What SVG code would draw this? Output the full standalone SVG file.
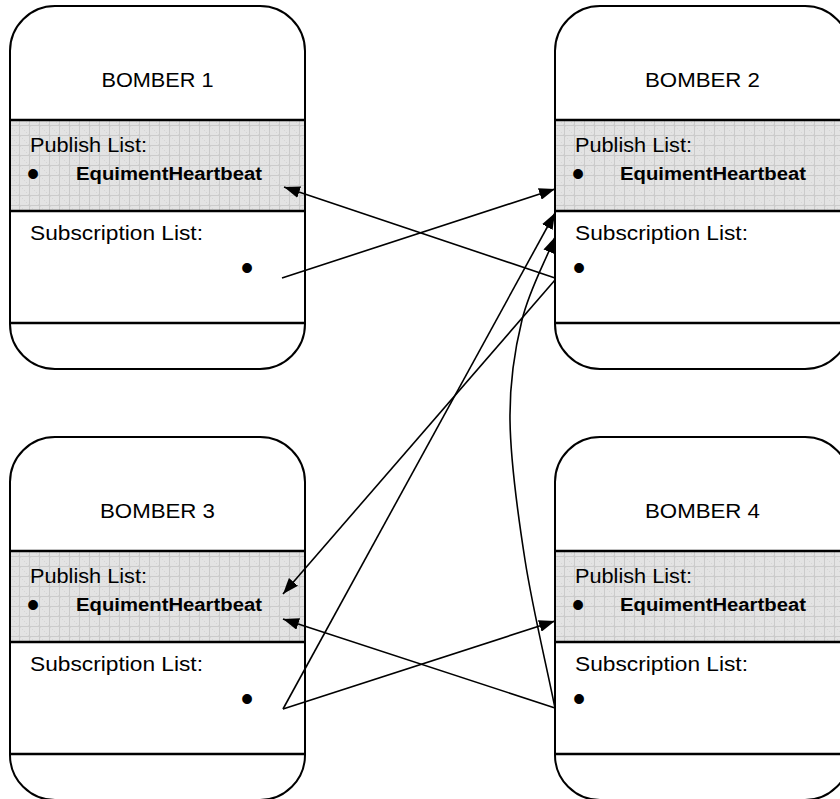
<svg xmlns="http://www.w3.org/2000/svg" width="840" height="799" viewBox="0 0 840 799">
  <defs>
    <pattern id="grid" x="0" y="0" width="10" height="10" patternUnits="userSpaceOnUse">
      <rect width="10" height="10" fill="#e3e3e3"/>
      <rect x="0" y="0" width="1" height="1" fill="#d6d6d6"/>
      <rect x="2" y="2" width="1" height="1" fill="#d6d6d6"/>
      <rect x="4" y="4" width="1" height="1" fill="#d6d6d6"/>
      <rect x="6" y="6" width="1" height="1" fill="#d6d6d6"/>
      <rect x="8" y="8" width="1" height="1" fill="#d6d6d6"/>
      <path d="M9.5,0 V10 M0,9.5 H10" stroke="#cbcbcb" stroke-width="1" fill="none"/>
    </pattern>
    <marker id="arrow" viewBox="0 0 16 12" refX="16" refY="6" markerWidth="16" markerHeight="12" markerUnits="userSpaceOnUse" orient="auto">
      <path d="M0,0 L16,6 L0,12 z" fill="#000"/>
    </marker>
    <style>
      .box { fill: #fff; stroke: #000; stroke-width: 2; }
      .shade { fill: url(#grid); stroke: none; }
      .sep { stroke: #000; stroke-width: 2.5; }
      .title { font-family: "Liberation Sans", Arial, sans-serif; font-size: 21px; fill: #000; text-anchor: middle; }
      .lbl { font-family: "Liberation Sans", Arial, sans-serif; font-size: 21px; fill: #000; }
      .item { font-family: "Liberation Sans", Arial, sans-serif; font-size: 18px; font-weight: bold; fill: #000; }
      .bul { font-family: "Liberation Sans", Arial, sans-serif; font-size: 36px; fill: #000; }
      .conn { fill: none; stroke: #000; stroke-width: 1.6; }
    </style>
  </defs>
  <rect width="840" height="799" fill="#fff"/>

  <g id="bomber1" transform="translate(10,6)">
    <rect class="box" x="0" y="0" width="295" height="363" rx="45" ry="45"/>
    <rect class="shade" x="1" y="114" width="293" height="91"/>
    <line class="sep" x1="0" y1="114" x2="295" y2="114"/>
    <line class="sep" x1="0" y1="205" x2="295" y2="205"/>
    <line class="sep" x1="0" y1="317" x2="295" y2="317"/>
    <text class="title" x="147.5" y="81" textLength="112" lengthAdjust="spacingAndGlyphs">BOMBER 1</text>
    <text class="lbl" x="20" y="146" textLength="117" lengthAdjust="spacingAndGlyphs">Publish List:</text>
    <text class="bul" x="16.7" y="179.6">•</text>
    <text class="item" x="66" y="174" textLength="186" lengthAdjust="spacingAndGlyphs">EquimentHeartbeat</text>
    <text class="lbl" x="20" y="234" textLength="173" lengthAdjust="spacingAndGlyphs">Subscription List:</text>
    <text class="bul" x="230.7" y="273.6">•</text>
  </g>

  <g id="bomber2" transform="translate(555,6)">
    <rect class="box" x="0" y="0" width="295" height="363" rx="45" ry="45"/>
    <rect class="shade" x="1" y="114" width="293" height="91"/>
    <line class="sep" x1="0" y1="114" x2="295" y2="114"/>
    <line class="sep" x1="0" y1="205" x2="295" y2="205"/>
    <line class="sep" x1="0" y1="317" x2="295" y2="317"/>
    <text class="title" x="147.5" y="81" textLength="115" lengthAdjust="spacingAndGlyphs">BOMBER 2</text>
    <text class="lbl" x="20" y="146" textLength="117" lengthAdjust="spacingAndGlyphs">Publish List:</text>
    <text class="bul" x="16.7" y="179.6">•</text>
    <text class="item" x="65" y="174" textLength="186" lengthAdjust="spacingAndGlyphs">EquimentHeartbeat</text>
    <text class="lbl" x="20" y="234" textLength="173" lengthAdjust="spacingAndGlyphs">Subscription List:</text>
    <text class="bul" x="17.7" y="273.6">•</text>
  </g>

  <g id="bomber3" transform="translate(10,437)">
    <rect class="box" x="0" y="0" width="295" height="363" rx="45" ry="45"/>
    <rect class="shade" x="1" y="114" width="293" height="91"/>
    <line class="sep" x1="0" y1="114" x2="295" y2="114"/>
    <line class="sep" x1="0" y1="205" x2="295" y2="205"/>
    <line class="sep" x1="0" y1="317" x2="295" y2="317"/>
    <text class="title" x="147.5" y="81" textLength="115" lengthAdjust="spacingAndGlyphs">BOMBER 3</text>
    <text class="lbl" x="20" y="146" textLength="117" lengthAdjust="spacingAndGlyphs">Publish List:</text>
    <text class="bul" x="16.7" y="179.6">•</text>
    <text class="item" x="66" y="174" textLength="186" lengthAdjust="spacingAndGlyphs">EquimentHeartbeat</text>
    <text class="lbl" x="20" y="234" textLength="173" lengthAdjust="spacingAndGlyphs">Subscription List:</text>
    <text class="bul" x="230.7" y="273.6">•</text>
  </g>

  <g id="bomber4" transform="translate(555,437)">
    <rect class="box" x="0" y="0" width="295" height="363" rx="45" ry="45"/>
    <rect class="shade" x="1" y="114" width="293" height="91"/>
    <line class="sep" x1="0" y1="114" x2="295" y2="114"/>
    <line class="sep" x1="0" y1="205" x2="295" y2="205"/>
    <line class="sep" x1="0" y1="317" x2="295" y2="317"/>
    <text class="title" x="147.5" y="81" textLength="115" lengthAdjust="spacingAndGlyphs">BOMBER 4</text>
    <text class="lbl" x="20" y="146" textLength="117" lengthAdjust="spacingAndGlyphs">Publish List:</text>
    <text class="bul" x="16.7" y="179.6">•</text>
    <text class="item" x="65" y="174" textLength="186" lengthAdjust="spacingAndGlyphs">EquimentHeartbeat</text>
    <text class="lbl" x="20" y="234" textLength="173" lengthAdjust="spacingAndGlyphs">Subscription List:</text>
    <text class="bul" x="17.7" y="273.6">•</text>
  </g>

  <g id="connectors">
    <line class="conn" x1="555" y1="278" x2="284" y2="187" marker-end="url(#arrow)"/>
    <line class="conn" x1="282" y1="278" x2="555" y2="189" marker-end="url(#arrow)"/>
    <line class="conn" x1="283" y1="709" x2="555" y2="213" marker-end="url(#arrow)"/>
    <path class="conn" d="M555,708 C545,658.7 532.5,608 525,560 C517.5,512 510.5,460 510,420 C509.5,380 514.5,350.5 522,320 C529.5,289.5 544,264.3 555,237" marker-end="url(#arrow)"/>
    <line class="conn" x1="555" y1="280" x2="283" y2="594" marker-end="url(#arrow)"/>
    <line class="conn" x1="283" y1="709" x2="555" y2="621" marker-end="url(#arrow)"/>
    <line class="conn" x1="555" y1="708" x2="283" y2="619" marker-end="url(#arrow)"/>
  </g>
</svg>
